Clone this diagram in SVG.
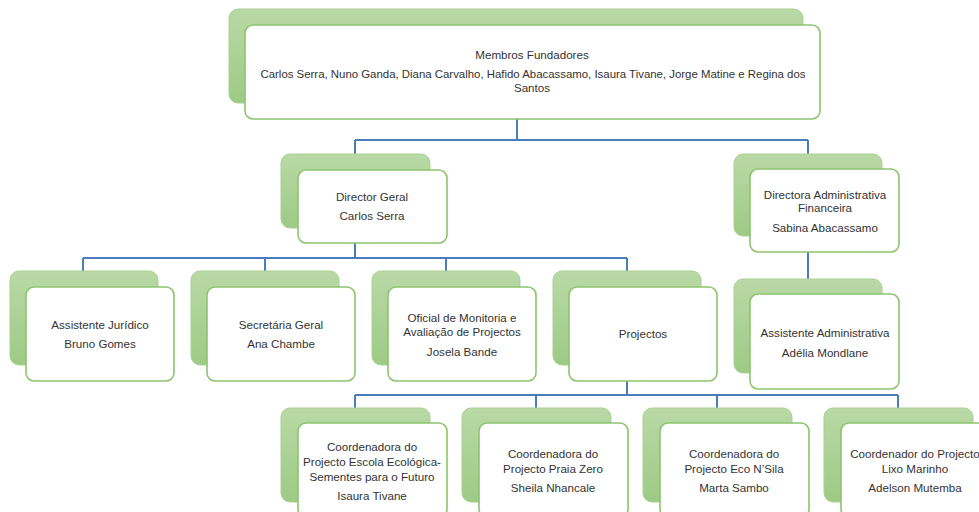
<svg xmlns="http://www.w3.org/2000/svg" width="979" height="512" viewBox="0 0 979 512">
<defs>
<linearGradient id="g" x1="0" y1="0" x2="0" y2="1">
<stop offset="0" stop-color="#b9d9a6"/>
<stop offset="1" stop-color="#9dca85"/>
</linearGradient>
<style>
.bk{fill:url(#g);stroke:#a9d192;stroke-width:1}
.fr{fill:#fff;stroke:#8dc46f;stroke-width:1.6}
.c{fill:none;stroke:#4a7ebb;stroke-width:2}
text{font-family:"Liberation Sans",Arial,sans-serif;font-size:11.6px;fill:#333;text-anchor:middle}
</style>
</defs>
<rect width="979" height="512" fill="#fff"/>
<g id="connectors">
<path class="c" d="M517 119V140M355 140H808M355 140V170M808 140V169"/>
<path class="c" d="M355 243V258M83 258H627M83 258V287M265 258V287M446 258V287M627 258V287"/>
<path class="c" d="M808 252V294"/>
<path class="c" d="M627 381V395M355 395H898M355 395V423M536 395V423M717 395V423M898 395V423"/>
</g>
<g id="fundadores">
<rect class="bk" x="229" y="9" width="574" height="94" rx="9"/>
<rect class="fr" x="245" y="25" width="575" height="94" rx="8"/>
<text x="532" y="59">Membros Fundadores</text>
<text x="533" y="78" textLength="545" lengthAdjust="spacingAndGlyphs">Carlos Serra, Nuno Ganda, Diana Carvalho, Hafido Abacassamo, Isaura Tivane, Jorge Matine e Regina dos</text>
<text x="532" y="92">Santos</text>
</g>
<g id="director-geral">
<rect class="bk" x="281" y="154" width="149" height="74" rx="9"/>
<rect class="fr" x="298" y="170" width="149" height="73" rx="8"/>
<text x="372" y="201">Director Geral</text>
<text x="372" y="220">Carlos Serra</text>
</g>
<g id="directora-adm">
<rect class="bk" x="734" y="154" width="148" height="82" rx="9"/>
<rect class="fr" x="750" y="169" width="149" height="83" rx="8"/>
<text x="825" y="199">Directora Administrativa</text>
<text x="825" y="212">Financeira</text>
<text x="825" y="232">Sabina Abacassamo</text>
</g>
<g id="assistente-juridico">
<rect class="bk" x="10" y="271" width="148" height="94" rx="9"/>
<rect class="fr" x="26" y="287" width="148" height="94" rx="8"/>
<text x="100" y="329">Assistente Jurídico</text>
<text x="100" y="348">Bruno Gomes</text>
</g>
<g id="secretaria-geral">
<rect class="bk" x="191" y="271" width="148" height="94" rx="9"/>
<rect class="fr" x="207" y="287" width="148" height="94" rx="8"/>
<text x="281" y="329">Secretária Geral</text>
<text x="281" y="348">Ana Chambe</text>
</g>
<g id="oficial-monitoria">
<rect class="bk" x="372" y="271" width="148" height="94" rx="9"/>
<rect class="fr" x="388" y="287" width="148" height="94" rx="8"/>
<text x="462" y="322">Oficial de Monitoria e</text>
<text x="462" y="336">Avaliação de Projectos</text>
<text x="462" y="356">Josela Bande</text>
</g>
<g id="projectos">
<rect class="bk" x="553" y="271" width="148" height="94" rx="9"/>
<rect class="fr" x="569" y="287" width="148" height="94" rx="8"/>
<text x="643" y="338">Projectos</text>
</g>
<g id="assistente-adm">
<rect class="bk" x="734" y="279" width="148" height="94" rx="9"/>
<rect class="fr" x="750" y="294" width="149" height="95" rx="8"/>
<text x="825" y="337">Assistente Administrativa</text>
<text x="825" y="357">Adélia Mondlane</text>
</g>
<g id="coord-escola">
<rect class="bk" x="281" y="408" width="149" height="94" rx="9"/>
<rect class="fr" x="298" y="423" width="149" height="94" rx="8"/>
<text x="372" y="451">Coordenadora do</text>
<text x="372" y="466">Projecto Escola Ecológica-</text>
<text x="372" y="481">Sementes para o Futuro</text>
<text x="372" y="500">Isaura Tivane</text>
</g>
<g id="coord-praia">
<rect class="bk" x="462" y="408" width="149" height="94" rx="9"/>
<rect class="fr" x="479" y="423" width="149" height="94" rx="8"/>
<text x="553" y="458">Coordenadora do</text>
<text x="553" y="473">Projecto Praia Zero</text>
<text x="553" y="492">Sheila Nhancale</text>
</g>
<g id="coord-eco">
<rect class="bk" x="643" y="408" width="149" height="94" rx="9"/>
<rect class="fr" x="660" y="423" width="149" height="94" rx="8"/>
<text x="734" y="458">Coordenadora do</text>
<text x="734" y="473">Projecto Eco N’Sila</text>
<text x="734" y="492">Marta Sambo</text>
</g>
<g id="coord-lixo">
<rect class="bk" x="824" y="408" width="149" height="94" rx="9"/>
<rect class="fr" x="841" y="423" width="149" height="94" rx="8"/>
<text x="915" y="458">Coordenador do Projecto</text>
<text x="915" y="473">Lixo Marinho</text>
<text x="915" y="492">Adelson Mutemba</text>
</g>
</svg>
